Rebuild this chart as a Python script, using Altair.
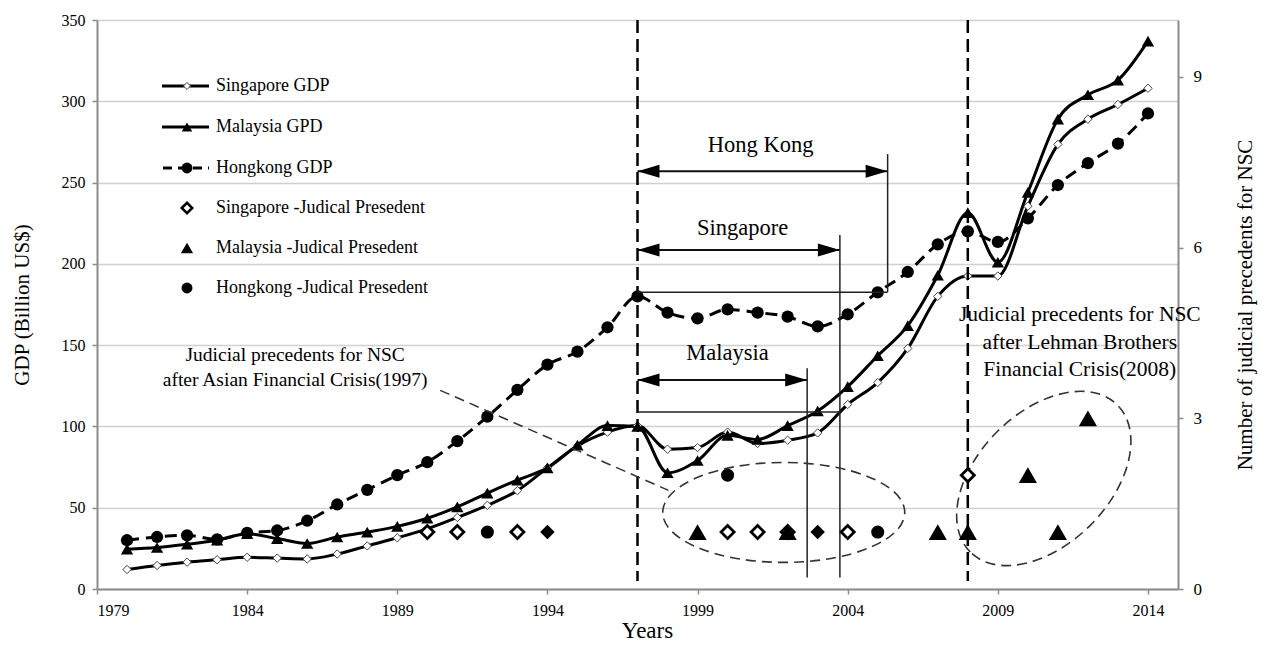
import altair as alt
import pandas as pd

# ---------------- data ----------------
years = list(range(1980, 2015))
singapore_gdp = [12, 14.5, 16.5, 18, 19.5, 19, 18.5, 21.5, 26.5, 31.5, 37, 44, 51.5, 60.5, 74.5,
                 88, 96.5, 100.5, 86, 87, 96.5, 89.5, 91.5, 96, 113.5, 127, 148, 180, 192.5, 192.5,
                 235.5, 273.5, 289, 298, 308]
malaysia_gdp = [24.5, 25.5, 27.5, 30, 34, 31, 28, 32, 35, 38.5, 43.5, 50.5, 59, 67, 74.5,
                88.5, 100.5, 100, 71.5, 79, 94.5, 92, 100.5, 109.5, 124.5, 143.5, 162, 193, 231.5, 201,
                244, 289, 304, 313, 337]
hongkong_gdp = [30, 32, 33, 30.5, 34.5, 36, 42, 52, 61, 70, 78, 91, 106, 122.5, 138,
                146, 161, 180, 170, 166.5, 172, 170, 167.5, 161.5, 169, 182.5, 195, 212, 220, 213.5,
                228, 248.5, 262, 274, 292.5]

# judicial precedents (right axis)
sg_jp_years = [1990, 1991, 1993, 2000, 2001, 2002, 2004, 2008]
sg_jp_counts = [1, 1, 1, 1, 1, 1, 1, 2]
overlap_jp_years = [1994, 2003]
overlap_jp_counts = [1, 1]
my_jp_years = [1999, 2002, 2007, 2008, 2010, 2011, 2012]
my_jp_counts = [1, 1, 1, 1, 2, 1, 3]
hk_jp_years = [1992, 2000, 2005]
hk_jp_counts = [1, 2, 1]

crisis_years = [1997, 2008]

range_labels = ["Hong Kong", "Singapore", "Malaysia"]
range_start = [1997, 1997, 1997]
range_end = [2005.33, 2003.74, 2002.65]
range_arrow_gdp = [257, 208.5, 128.5]
range_label_gdp = [273, 222, 145]
range_label_year = [2001.1, 2000.5, 2000.0]
range_bar_top = [267.5, 217.7, 135.8]
range_bar_bottom = [182.6, 7, 7]
base_start = [1997, 1997]
base_end = [2005.33, 2003.74]
base_gdp = [182.6, 108.9]

note1_lines = ["Judicial precedents for NSC", "after Asian Financial Crisis(1997)"]
note1_gdp = [143.7, 128.3]
note1_year = [1985.6, 1985.6]
note2_lines = ["Judicial precedents for NSC", "after Lehman Brothers", "Financial Crisis(2008)"]
note2_gdp = [168.4, 151.1, 134.5]
note2_year = [2011.73, 2011.73, 2011.73]

leader_year = [1990.43]
leader_year2 = [1998.03]
leader_gdp = [122.2]
leader_gdp2 = [60.7]

ellipse1_year, ellipse1_gdp = [2001.87], [47.1]
ellipse2_year, ellipse2_gdp = [2010.53], [68.0]

legend_labels = ["Singapore GDP", "Malaysia GPD", "Hongkong GDP",
                 "Singapore -Judical Presedent", "Malaysia -Judical Presedent",
                 "Hongkong -Judical Presedent"]

# ---------------- style ----------------
FONT = "Liberation Serif"
W, H = 1081, 569
AXC = "#8c8c8c"

x_scale = alt.Scale(domain=[1979, 2015], nice=False, zero=False)
gdp_scale = alt.Scale(domain=[0, 350], nice=False)
jp_scale = alt.Scale(domain=[0, 10], nice=False)

x_axis = alt.Axis(values=list(range(1979, 2015, 5)), format="d", title="Years",
                  grid=False, tickSize=5, labelPadding=8, labelFontSize=16,
                  titleFontSize=23, titleX=550, titleY=48, titleBaseline="alphabetic",
                  titleAlign="center")
gdp_axis = alt.Axis(values=list(range(0, 351, 50)), title="GDP (Billion US$)",
                    grid=True, tickSize=5, labelPadding=7, labelFontSize=16,
                    titleFontSize=21, titleAngle=270, titleX=-75, titleY=H / 2,
                    titleAlign="center", titleBaseline="middle")
jp_axis = alt.Axis(values=[0, 3, 6, 9], orient="right", title="Number of judicial precedents for NSC",
                   grid=False, tickSize=5, labelPadding=10, labelFontSize=17,
                   titleFontSize=21, titleAngle=270, titleX=67, titleY=H / 2,
                   titleAlign="center", titleBaseline="middle")


def xq(f):
    return alt.X(f"{f}:Q", scale=x_scale, axis=x_axis)


def yg(f):
    return alt.Y(f"{f}:Q", scale=gdp_scale, axis=gdp_axis)


def yj(f):
    return alt.Y(f"{f}:Q", scale=jp_scale, axis=jp_axis)


def ellipse_path(ry):
    k = 0.5523
    return (f"M-1,0C-1,{-k*ry:.3f} {-k:.3f},{-ry:.3f} 0,{-ry:.3f}"
            f"C{k:.3f},{-ry:.3f} 1,{-k*ry:.3f} 1,0"
            f"C1,{k*ry:.3f} {k:.3f},{ry:.3f} 0,{ry:.3f}"
            f"C{-k:.3f},{ry:.3f} -1,{k*ry:.3f} -1,0Z")


LEFT_HEAD = "M0,0L2.2,-0.65L2.2,0.65Z"
RIGHT_HEAD = "M0,0L-2.2,-0.65L-2.2,0.65Z"
INTERP = "monotone"

# ---------------- GDP group ----------------
gdp_df = pd.DataFrame({"year": years, "sg": singapore_gdp, "my": malaysia_gdp, "hk": hongkong_gdp})
base = alt.Chart(gdp_df)

line_sg = base.mark_line(color="black", strokeWidth=3, interpolate=INTERP).encode(x=xq("year"), y=yg("sg"))
line_my = base.mark_line(color="black", strokeWidth=3, interpolate=INTERP).encode(x=xq("year"), y=yg("my"))
line_hk = base.mark_line(color="black", strokeWidth=3, strokeDash=[12, 7], interpolate=INTERP).encode(x=xq("year"), y=yg("hk"))
pt_sg = base.mark_point(shape="diamond", size=70, fill="white", stroke="#444", strokeWidth=1, opacity=1).encode(x=xq("year"), y=yg("sg"))
pt_my = base.mark_point(shape="triangle-up", size=150, filled=True, color="black", opacity=1).encode(x=xq("year"), y=yg("my"))
pt_hk = base.mark_circle(size=150, color="black", opacity=1).encode(x=xq("year"), y=yg("hk"))

crisis = alt.Chart(pd.DataFrame({"year": crisis_years})).mark_rule(
    color="black", strokeWidth=2.5, strokeDash=[13, 6]).encode(
    x=xq("year"), y=alt.value(0), y2=alt.value(H - 8))

rng = pd.DataFrame({"label": range_labels, "start": range_start, "end": range_end,
                    "arrow": range_arrow_gdp, "ly": range_label_gdp, "lx": range_label_year,
                    "top": range_bar_top, "bottom": range_bar_bottom})
rbase = alt.Chart(rng)
arrow_line = rbase.mark_rule(color="#111", strokeWidth=2).encode(x=xq("start"), x2=alt.X2("end"), y=yg("arrow"))
head_l = rbase.mark_point(shape=LEFT_HEAD, size=400, filled=True, color="black", opacity=1).encode(x=xq("start"), y=yg("arrow"))
head_r = rbase.mark_point(shape=RIGHT_HEAD, size=400, filled=True, color="black", opacity=1).encode(x=xq("end"), y=yg("arrow"))
bars = rbase.mark_rule(color="#222", strokeWidth=1.5).encode(x=xq("end"), y=yg("top"), y2=alt.Y2("bottom"))
rlabels = rbase.mark_text(font=FONT, fontSize=22.5, color="black", baseline="middle").encode(
    x=xq("lx"), y=yg("ly"), text="label:N")
base_lines = alt.Chart(pd.DataFrame({"start": base_start, "end": base_end, "g": base_gdp})).mark_rule(
    color="#222", strokeWidth=1.5).encode(x=xq("start"), x2=alt.X2("end"), y=yg("g"))

note1 = alt.Chart(pd.DataFrame({"t": note1_lines, "g": note1_gdp, "y": note1_year})).mark_text(
    font=FONT, fontSize=19.5, color="black", baseline="middle").encode(x=xq("y"), y=yg("g"), text="t:N")
note2 = alt.Chart(pd.DataFrame({"t": note2_lines, "g": note2_gdp, "y": note2_year})).mark_text(
    font=FONT, fontSize=21.5, color="black", baseline="middle").encode(x=xq("y"), y=yg("g"), text="t:N")

leader = alt.Chart(pd.DataFrame({"x1": leader_year, "x2": leader_year2, "y1": leader_gdp, "y2": leader_gdp2})).mark_rule(
    color="#333", strokeWidth=1.5, strokeDash=[10, 6]).encode(
    x=xq("x1"), x2=alt.X2("x2"), y=yg("y1"), y2=alt.Y2("y2"))

ell1 = alt.Chart(pd.DataFrame({"x": ellipse1_year, "g": ellipse1_gdp})).mark_point(
    shape=ellipse_path(0.413), size=242 ** 2, filled=False, stroke="#333", strokeWidth=1.6,
    strokeDash=[10, 6], opacity=1).encode(x=xq("x"), y=yg("g"))
ell2 = alt.Chart(pd.DataFrame({"x": ellipse2_year, "g": ellipse2_gdp})).mark_point(
    shape=ellipse_path(0.635), size=208 ** 2, filled=False, stroke="#333", strokeWidth=1.6,
    strokeDash=[10, 6], angle=315, opacity=1).encode(x=xq("x"), y=yg("g"))

# ---------------- legend (drawn by hand) ----------------
one = alt.Chart(pd.DataFrame({"a": [0]}))
leg_y = [66, 107, 148, 188, 228, 268]
LX1, LX2, LM, LT = 65, 112, 90, 119
legend_layers = []
for i, lab in enumerate(legend_labels):
    yv = alt.value(leg_y[i])
    legend_layers.append(one.mark_text(text=lab, font=FONT, fontSize=18, align="left", baseline="middle",
                                       color="black").encode(x=alt.value(LT), y=yv))
legend_layers += [
    one.mark_rule(color="black", strokeWidth=3).encode(x=alt.value(LX1), x2=alt.value(LX2), y=alt.value(leg_y[0])),
    one.mark_point(shape="diamond", size=50, fill="white", stroke="#444", strokeWidth=1, opacity=1).encode(x=alt.value(LM), y=alt.value(leg_y[0])),
    one.mark_rule(color="black", strokeWidth=3).encode(x=alt.value(LX1), x2=alt.value(LX2), y=alt.value(leg_y[1])),
    one.mark_point(shape="triangle-up", size=110, filled=True, color="black", opacity=1).encode(x=alt.value(LM), y=alt.value(leg_y[1])),
    one.mark_rule(color="black", strokeWidth=3, strokeDash=[9, 6]).encode(x=alt.value(LX1 + 1), x2=alt.value(LX2), y=alt.value(leg_y[2])),
    one.mark_circle(size=120, color="black", opacity=1).encode(x=alt.value(LM), y=alt.value(leg_y[2])),
    one.mark_point(shape="diamond", size=110, fill="white", stroke="black", strokeWidth=2.5, opacity=1).encode(x=alt.value(LM), y=alt.value(leg_y[3])),
    one.mark_point(shape="triangle-up", size=150, filled=True, color="black", opacity=1).encode(x=alt.value(LM), y=alt.value(leg_y[4])),
    one.mark_circle(size=120, color="black", opacity=1).encode(x=alt.value(LM), y=alt.value(leg_y[5])),
]

gdp_group = alt.layer(line_sg, line_my, line_hk, pt_sg, pt_my, pt_hk, crisis,
                      arrow_line, head_l, head_r, bars, base_lines, rlabels,
                      note1, note2, leader, ell1, ell2, *legend_layers)

# ---------------- judicial precedent group ----------------
sgj = alt.Chart(pd.DataFrame({"year": sg_jp_years, "n": sg_jp_counts})).mark_point(
    shape="diamond", size=170, fill="white", stroke="black", strokeWidth=2.8, opacity=1).encode(x=xq("year"), y=yj("n"))
ovj = alt.Chart(pd.DataFrame({"year": overlap_jp_years, "n": overlap_jp_counts})).mark_point(
    shape="diamond", size=210, filled=True, color="black", opacity=1).encode(x=xq("year"), y=yj("n"))
myj = alt.Chart(pd.DataFrame({"year": my_jp_years, "n": my_jp_counts})).mark_point(
    shape="triangle-up", size=330, filled=True, color="black", opacity=1).encode(x=xq("year"), y=yj("n"))
hkj = alt.Chart(pd.DataFrame({"year": hk_jp_years, "n": hk_jp_counts})).mark_circle(
    size=170, color="black", opacity=1).encode(x=xq("year"), y=yj("n"))
jp_group = alt.layer(sgj, ovj, myj, hkj)

chart = alt.layer(gdp_group, jp_group).resolve_scale(y="independent").properties(
    width=W, height=H,
    autosize=alt.AutoSizeParams(type="none"),
    padding={"left": 89, "top": 12, "right": 84, "bottom": 54},
    background="white",
).configure_view(stroke=None).configure_axis(
    labelFont=FONT, titleFont=FONT, labelColor="black", titleColor="black",
    titleFontWeight="normal", domainColor=AXC, domainWidth=2, tickColor=AXC, tickWidth=1.5,
    gridColor="#d0d0d0", gridWidth=1.5,
)

chart.save("out.html", embed_options={"renderer": "svg", "actions": False})
